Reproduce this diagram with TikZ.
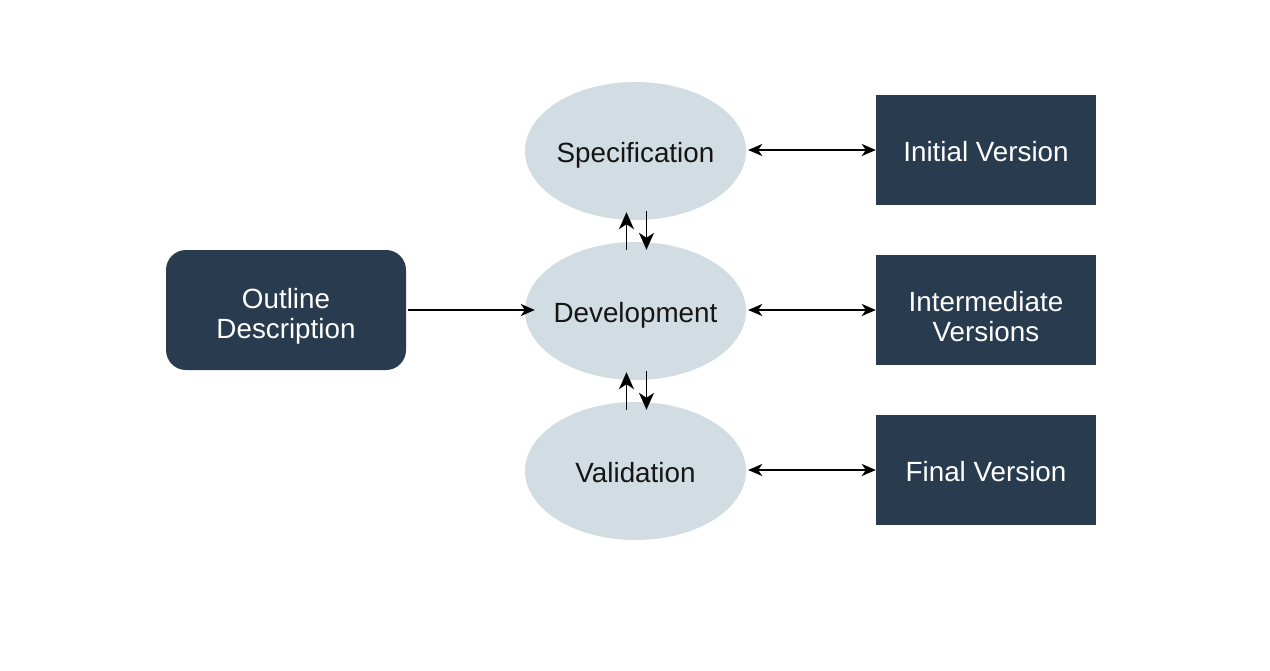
\documentclass[tikz,border=0pt]{standalone}
\usepackage{fontspec}
\setmainfont{Liberation Sans}
\usetikzlibrary{shapes.geometric,arrows.meta}
\definecolor{boxdark}{HTML}{283B4F}
\definecolor{ellfill}{HTML}{D1DDE2}
\definecolor{txtdark}{HTML}{151515}
\newcommand{\topstrut}{\rule{0pt}{33pt}}
\tikzset{
  ell/.style={ellipse, fill=ellfill, draw=none, minimum width=221pt, minimum height=138pt, inner sep=0pt, text=txtdark, text width=0pt, align=center, text height=24pt, text depth=1pt, font=\fontsize{27.8}{30.5}\selectfont},
  darkbox/.style={rectangle, fill=boxdark, draw=none, minimum width=220pt, minimum height=110pt, inner sep=0pt, text=white, align=center, font=\fontsize{27.8}{30.5}\selectfont},
  oneline/.style={text height=24pt, text depth=1pt},
  arr/.style={line width=1.8pt, -{Stealth[length=17pt,width=15pt,inset=5pt]}},
  harr/.style={line width=1.8pt, -{Stealth[length=14pt,width=12pt,inset=4pt]}},
  darr/.style={line width=1.8pt, {Stealth[length=14pt,width=12pt,inset=4pt]}-{Stealth[length=14pt,width=12pt,inset=4pt]}}
}
\begin{document}
\begin{tikzpicture}[x=1pt,y=1pt]
\useasboundingbox (0,0) rectangle (1270,-670);
\node[ell] (spec) at (635.5,-151) {\makebox[0pt]{Specification}};
\node[ell] (dev) at (635.5,-311) {\makebox[0pt]{Development}};
\node[ell] (val) at (635.5,-471) {\makebox[0pt]{Validation}};
\node[darkbox, oneline] (init) at (986,-150) {Initial Version};
\node[darkbox] (inter) at (986,-310) {\topstrut Intermediate\\Versions};
\node[darkbox, oneline] (final) at (986,-470) {Final Version};
\node[darkbox, rounded corners=20pt, minimum width=240pt, minimum height=120pt] (outl) at (286,-310) {\topstrut Outline\\Description};
\draw[darr] ([xshift=2pt]spec.east |- init.west) -- (init.west);
\draw[darr] ([xshift=2pt]dev.east |- inter.west) -- (inter.west);
\draw[darr] ([xshift=2pt]val.east |- final.west) -- (final.west);
\draw[harr] ([xshift=2pt]outl.east) -- ([xshift=10pt]dev.west |- outl.east);
\draw[arr] ([xshift=-9pt,yshift=-8pt]dev.north) -- ([xshift=-9pt,yshift=8pt]spec.south);
\draw[arr] ([xshift=11pt,yshift=9pt]spec.south) -- ([xshift=11pt,yshift=-8pt]dev.north);
\draw[arr] ([xshift=-9pt,yshift=-8pt]val.north) -- ([xshift=-9pt,yshift=8pt]dev.south);
\draw[arr] ([xshift=11pt,yshift=9pt]dev.south) -- ([xshift=11pt,yshift=-8pt]val.north);
\end{tikzpicture}
\end{document}
